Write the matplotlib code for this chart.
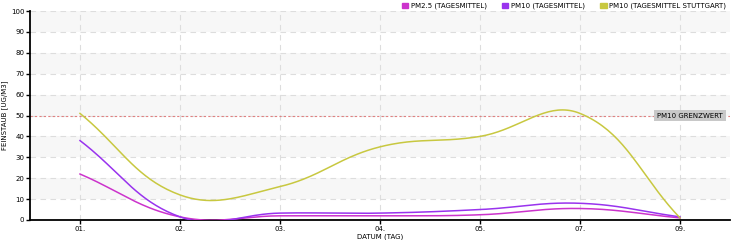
import numpy as np
import matplotlib
matplotlib.use('Agg')
import matplotlib.pyplot as plt

# daily means
days = ['01.', '02.', '03.', '04.', '05.', '07.', '09.']
pm25 = [22, 1.5, 2, 2, 2.5, 5.5, 1]
pm10 = [38, 1.5, 3.3, 3.3, 5, 8, 1.5]
pm10_stgt = [51, 12, 16, 35, 40, 51, 1]
limit = 50

series = [
    ('PM2.5 (TAGESMITTEL)', pm25, '#cc33cc'),
    ('PM10 (TAGESMITTEL)', pm10, '#9933ee'),
    ('PM10 (TAGESMITTEL STUTTGART)', pm10_stgt, '#c8c840'),
]

# pixel-ish scale for the spline distances
SX, SY = 100.0, 2.09


def spline(vals, tension=0.4, n=40):
    x = np.arange(len(vals), dtype=float)
    y = np.asarray(vals, dtype=float)
    px, py = x * SX, y * SY
    cp = []
    for i in range(len(x)):
        a = max(i - 1, 0)
        b = min(i + 1, len(x) - 1)
        d01 = np.hypot(px[i] - px[a], py[i] - py[a])
        d12 = np.hypot(px[b] - px[i], py[b] - py[i])
        tot = d01 + d12 if d01 + d12 > 0 else 1
        fa = tension * d01 / tot
        fb = tension * d12 / tot
        dx, dy = px[b] - px[a], py[b] - py[a]
        cp.append(((px[i] - fa * dx, py[i] - fa * dy), (px[i] + fb * dx, py[i] + fb * dy)))
    xs, ys = [], []
    t = np.linspace(0, 1, n)
    for i in range(len(x) - 1):
        p0 = np.array([px[i], py[i]])
        p1 = np.array(cp[i][1])
        p2 = np.array(cp[i + 1][0])
        p3 = np.array([px[i + 1], py[i + 1]])
        pts = ((1 - t) ** 3)[:, None] * p0 + (3 * (1 - t) ** 2 * t)[:, None] * p1 \
            + (3 * (1 - t) * t ** 2)[:, None] * p2 + (t ** 3)[:, None] * p3
        xs.extend(pts[:, 0] / SX)
        ys.extend(pts[:, 1] / SY)
    return np.array(xs), np.array(ys)


fs = 5
fig = plt.figure(figsize=(7.4, 2.4), dpi=100)
ax = fig.add_axes([30 / 740, 20 / 240, 700 / 740, 209 / 240])
ax.set_xlim(-0.5, len(days) - 0.5)
ax.set_ylim(0, 100)

for lo in range(10, 100, 20):
    ax.axhspan(lo, lo + 10, color='#f7f7f7', zorder=0, lw=0)
for yv in range(10, 101, 10):
    ax.axhline(yv, color='#dddddd', lw=0.8, ls=(0, (5, 4)), zorder=1)
for xv in range(len(days)):
    ax.axvline(xv, color='#dddddd', lw=0.8, ls=(0, (5, 4)), zorder=1)

for name, vals, col in series:
    xs, ys = spline(vals)
    ax.plot(xs, ys, color=col, lw=1.1, zorder=3, label=name)

ax.axhline(limit, color='#e08080', lw=0.8, ls=(0, (2, 2)), zorder=2)
ax.text(6.43, limit, 'PM10 GRENZWERT', fontsize=fs, ha='right', va='center', zorder=4,
        bbox=dict(boxstyle='square,pad=0.4', fc='#c8c8c8', ec='none'))

ax.set_xticks(range(len(days)))
ax.set_xticklabels(days)
ax.set_yticks(range(0, 101, 10))
ax.tick_params(labelsize=fs, length=3, width=1, pad=1)
for s in ['top', 'right']:
    ax.spines[s].set_visible(False)
for s in ['left', 'bottom']:
    ax.spines[s].set_linewidth(1.3)
ax.set_xlabel('DATUM (TAG)', fontsize=fs)
ax.xaxis.set_label_coords(0.5, -0.065, transform=ax.transAxes)
ax.set_ylabel('FEINSTAUB [UG/M3]', fontsize=fs)
ax.yaxis.set_label_coords(-0.031, 0.5, transform=ax.transAxes)

handles = [plt.Rectangle((0, 0), 1, 1, color=c) for _, _, c in series]
fig.legend(handles, [n for n, _, _ in series], loc='upper right', bbox_to_anchor=(0.99, 1.015),
           ncol=3, fontsize=fs, frameon=False, handlelength=0.9, handleheight=0.9,
           handletextpad=0.4, columnspacing=2.2)

fig.savefig('out.png', dpi=100)
